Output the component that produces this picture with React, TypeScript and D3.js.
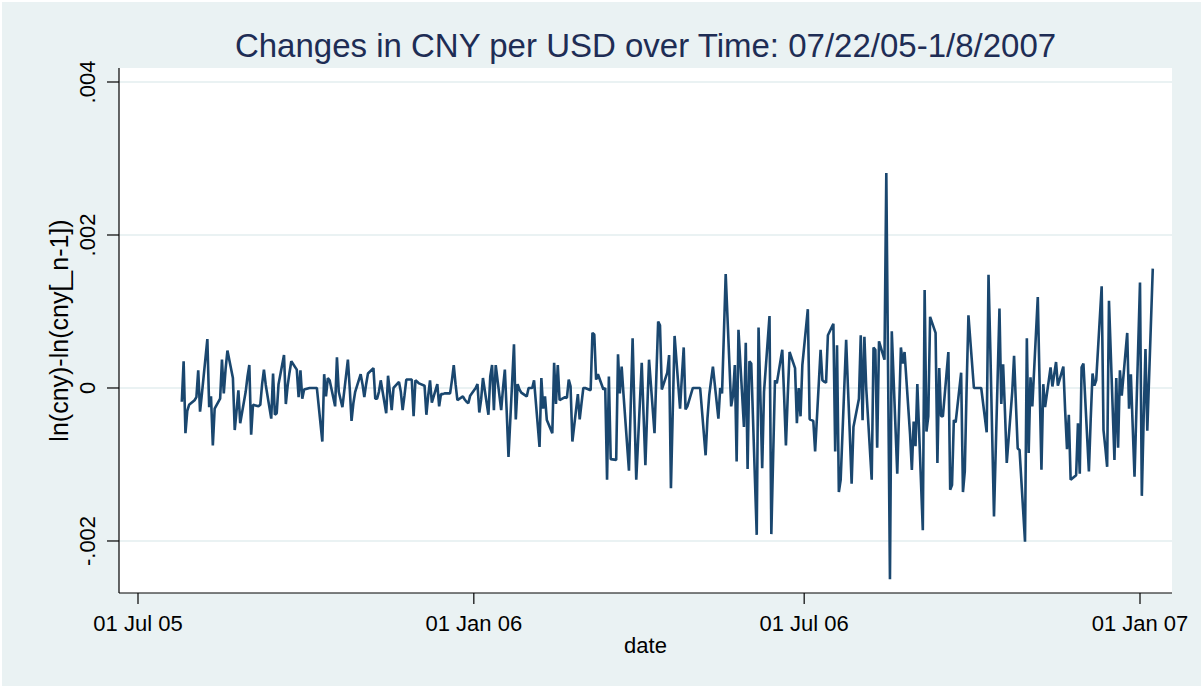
import React from "react";
import * as d3 from "d3";

// ---- data ----
const TITLE = "Changes in CNY per USD over Time: 07/22/05-1/8/2007";
const X_TITLE = "date";
const Y_TITLE = "ln(cny)-ln(cny[_n-1])";
const START_DATE = "2005-07-25";
const END_DATE = "2007-01-08";
const X_TICKS = ["2005-07-01", "2006-01-01", "2006-07-01", "2007-01-01"];
const Y_TICKS = [-0.002, 0, 0.002, 0.004];
const Y_TICK_LABELS = ["-.002", "0", ".002", ".004"];

// daily (weekday) values of ln(cny)-ln(cny[_n-1])
const dlnCny = [
  -1.8e-4, 3.5e-4, -5.9e-4, -3.0e-4, -2.2e-4,
  -1.6e-4, -1.2e-4, 2.3e-4, -3.1e-4, -0.8e-4,
  6.4e-4, -2.5e-4, -1.1e-4, -7.5e-4, -2.7e-4,
  -1.4e-4, 3.7e-4, -0.7e-4, 2.5e-4, 4.9e-4,
  1.3e-4, -5.5e-4, -3.0e-4, -0.3e-4, -4.6e-4,
  -0.5e-4, 1.5e-4, 3.0e-4, -6.1e-4, -2.2e-4,
  -2.4e-4, -2.2e-4, 0.5e-4, 2.4e-4, 0.4e-4,
  -4.0e-4, 1.9e-4, -3.5e-4, -3.3e-4, 0.5e-4,
  4.3e-4, -2.1e-4, 0.3e-4, 2.0e-4, 3.5e-4,
  2.4e-4, -1.2e-4, 2.3e-4, -1.4e-4, -0.2e-4,
  0, 0, 0, 0, 0,
  -7.0e-4, 1.8e-4, -1.1e-4, 1.3e-4, 1.0e-4,
  -2.4e-4, 4.0e-4, -0.5e-4, -1.5e-4, -2.5e-4,
  3.7e-4, 0.0, -4.3e-4, -2.0e-4, -0.5e-4,
  1.8e-4, 0.5e-4, -1.2e-4, 0.5e-4, 1.9e-4,
  2.6e-4, -1.4e-4, -1.4e-4, -0.5e-4, 1.0e-4,
  -3.3e-4, 1.6e-4, -0.5e-4, -2.9e-4, 0.0,
  0.8e-4, -0.5e-4, -2.9e-4, -1.0e-4, 1.1e-4,
  1.1e-4, -3.7e-4, 1.0e-4, 0.8e-4, 0.6e-4,
  0.3e-4, -3.5e-4, -1.0e-4, 1.0e-4, -1.9e-4,
  0.5e-4, -2.4e-4, -0.8e-4, -0.8e-4, -0.7e-4,
  -0.7e-4, 1.0e-4, 3.0e-4, 0.5e-4, -1.6e-4,
  -1.1e-4, -1.5e-4, -1.8e-4, -2.0e-4, -1.0e-4,
  0.0, 0.5e-4, -3.2e-4, -1.5e-4, 1.3e-4,
  -3.5e-4, 1.5e-4, 3.0e-4, -2.9e-4, 3.0e-4,
  -2.9e-4, 0.0, 2.4e-4, -3.0e-4, -9.0e-4,
  5.7e-4, -4.1e-4, 0.5e-4, -0.2e-4, -0.6e-4,
  -1.1e-4, 0, 0, 0, 1.0e-4,
  -7.7e-4, 1.3e-4, -2.7e-4, -1.1e-4, -4.2e-4,
  -5.9e-4, 3.3e-4, -2.1e-4, 3.0e-4, -1.6e-4,
  -1.2e-4, -1.3e-4, 1.1e-4, 0.2e-4, -7.0e-4,
  -0.8e-4, -4.1e-4, -2.0e-4, 0.0, 0.0,
  -0.3e-4, 7.2e-4, 7.0e-4, 1.1e-4, 1.8e-4,
  -0.2e-4, 0.0, -12.0e-4, 1.5e-4, -9.3e-4,
  -9.4e-4, 4.4e-4, -0.7e-4, 2.8e-4, -0.8e-4,
  -10.8e-4, -2.0e-4, 6.5e-4, -3.0e-4, -12.0e-4,
  3.3e-4, -3.5e-4, -10.1e-4, -3.0e-4, 3.7e-4,
  -5.9e-4, 1.5e-4, 8.7e-4, 8.2e-4, -0.2e-4,
  2.0e-4, 4.3e-4, -13.1e-4, -3.0e-4, 6.8e-4,
  -2.7e-4, 1.5e-4, 5.3e-4, -2.8e-4, -2.4e-4,
  0, 0, 0, 0, 0,
  -8.8e-4, -4.0e-4, -0.9e-4, 1.0e-4, 2.8e-4,
  -4.0e-4, 0.0, -0.7e-4, 7.0e-4, 14.9e-4,
  -2.4e-4, -1.0e-4, 3.0e-4, -9.6e-4, 7.6e-4,
  -5.1e-4, 5.9e-4, -10.6e-4, 3.5e-4, 3.2e-4,
  -19.2e-4, 7.9e-4, -1.0e-4, -10.5e-4, -0.5e-4,
  9.4e-4, -19.1e-4, -9.0e-4, 1.0e-4, 0.6e-4,
  5.0e-4, -1.0e-4, -7.5e-4, -1.0e-4, 4.7e-4,
  2.6e-4, -4.6e-4, 0.0, -3.7e-4, 3.0e-4,
  10.3e-4, -4.1e-4, -4.2e-4, -4.3e-4, -8.3e-4,
  5.0e-4, 1.0e-4, 0.8e-4, 0.7e-4, 6.9e-4,
  8.4e-4, -8.3e-4, 5.6e-4, -13.6e-4, -12.0e-4,
  6.3e-4, 0.0, -6.0e-4, -12.5e-4, -5.1e-4,
  -1.4e-4, 6.9e-4, -4.2e-4, 6.7e-4, 0.0,
  -12.0e-4, 5.3e-4, 5.0e-4, -7.8e-4, 6.1e-4,
  3.7e-4, 28.1e-4, 1.5e-4, -25.0e-4, 7.4e-4,
  -11.2e-4, -3.0e-4, 5.3e-4, 3.2e-4, 4.7e-4,
  -6.0e-4, -10.7e-4, -4.4e-4, -7.6e-4, 0.5e-4,
  -18.6e-4, 12.8e-4, -5.7e-4, -3.7e-4, 9.3e-4,
  7.2e-4, -9.8e-4, 2.6e-4, -3.7e-4, -3.7e-4,
  4.7e-4, -13.3e-4, -12.7e-4, -4.2e-4, -4.5e-4,
  2.0e-4, -13.6e-4, -10.9e-4, 0.0, 9.5e-4,
  0, 0, 0, 0, 0,
  -5.8e-4, 14.8e-4, 5.0e-4, -6.0e-4, -16.8e-4,
  10.4e-4, -2.1e-4, 3.1e-4, -3.0e-4, -9.8e-4,
  -0.5e-4, 4.2e-4, -2.0e-4, -7.9e-4, -8.1e-4,
  -20.1e-4, 6.5e-4, -8.5e-4, 1.4e-4, -2.4e-4,
  11.9e-4, 0.5e-4, -10.7e-4, 0.5e-4, -2.5e-4,
  2.7e-4, 0.2e-4, 1.8e-4, 3.4e-4, 0.3e-4,
  2.8e-4, -3.0e-4, -8.0e-4, -3.5e-4, -12.0e-4,
  -11.4e-4, -4.6e-4, -11.2e-4, 2.7e-4, 3.2e-4,
  -10.9e-4, -4.0e-4, 1.9e-4, 0.3e-4, 1.0e-4,
  13.3e-4, -5.5e-4, -7.8e-4, -10.3e-4, 11.4e-4,
  -9.4e-4, 1.3e-4, -7.8e-4, 2.3e-4, -1.0e-4,
  7.2e-4, -2.7e-4, 1.8e-4, -5.0e-4, -11.6e-4,
  13.8e-4, -14.1e-4, -4.0e-4, 5.1e-4, -5.6e-4,
  15.6e-4,
];

// ---- layout ----
const W = 1201;
const H = 686;
const PLOT = { left: 119, right: 1172, top: 68, bottom: 593 };
const FONT = "'Liberation Sans', Arial, Helvetica, sans-serif";
const BG = "#EAF2F3";
const LINE = "#1A476F";

const parse = d3.utcParse("%Y-%m-%d");
const fmt = d3.utcFormat("%d %b %y");

export default function App() {
  const start = parse(START_DATE)!;
  const end = parse(END_DATE)!;
  const dates = d3.utcDay
    .range(start, d3.utcDay.offset(end, 1))
    .filter((d) => d.getUTCDay() !== 0 && d.getUTCDay() !== 6);
  const data = dates
    .map((d, i) => ({ date: d, v: dlnCny[i] }))
    .filter((p) => p.v !== undefined);

  const xTickDates = X_TICKS.map((s) => parse(s)!);
  const x = d3
    .scaleUtc()
    .domain([xTickDates[0], xTickDates[xTickDates.length - 1]])
    .range([138, 1140]);
  const y = d3
    .scaleLinear()
    .domain([-0.00268, 0.004183])
    .range([PLOT.bottom, PLOT.top]);

  const line = d3
    .line<{ date: Date; v: number }>()
    .x((d) => x(d.date))
    .y((d) => y(d.v));

  const cx = (PLOT.left + PLOT.right) / 2;
  const cy = (PLOT.top + PLOT.bottom) / 2;

  return (
    <svg
      width={W}
      height={H}
      style={{ position: "absolute", left: 0, top: 0, display: "block" }}
      fontFamily={FONT}
    >
      <rect x={0} y={0} width={W} height={H} fill="#FFFFFF" />
      <rect x={2} y={2} width={W - 2} height={H - 2} fill={BG} />
      <rect
        x={PLOT.left}
        y={PLOT.top}
        width={PLOT.right - PLOT.left}
        height={PLOT.bottom - PLOT.top}
        fill="#FFFFFF"
      />
      {/* gridlines */}
      {Y_TICKS.map((t) => (
        <line
          key={"g" + t}
          x1={PLOT.left}
          x2={PLOT.right}
          y1={y(t)}
          y2={y(t)}
          stroke={BG}
          strokeWidth={2}
        />
      ))}
      {/* series */}
      <path
        d={line(data) || ""}
        fill="none"
        stroke={LINE}
        strokeWidth={2.6}
        strokeLinejoin="bevel"
      />
      {/* y axis */}
      <line x1={PLOT.left} x2={PLOT.left} y1={PLOT.top} y2={PLOT.bottom} stroke="#000" strokeWidth={1.2} />
      {Y_TICKS.map((t, i) => (
        <g key={"y" + t}>
          <line x1={PLOT.left - 12} x2={PLOT.left} y1={y(t)} y2={y(t)} stroke="#000" strokeWidth={1.2} />
          <text
            transform={`translate(95,${y(t)}) rotate(-90)`}
            textAnchor="middle"
            fontSize={22}
            fill="#000"
          >
            {Y_TICK_LABELS[i]}
          </text>
        </g>
      ))}
      <text
        transform={`translate(68,${cy}) rotate(-90)`}
        textAnchor="middle"
        fontSize={25}
        fill="#000"
      >
        {Y_TITLE}
      </text>
      {/* x axis */}
      <line x1={PLOT.left} x2={PLOT.right} y1={PLOT.bottom} y2={PLOT.bottom} stroke="#000" strokeWidth={1.2} />
      {xTickDates.map((d) => (
        <g key={"x" + d.getTime()}>
          <line x1={x(d)} x2={x(d)} y1={PLOT.bottom} y2={PLOT.bottom + 11} stroke="#000" strokeWidth={1.2} />
          <text x={x(d)} y={631} textAnchor="middle" fontSize={22} fill="#000">
            {fmt(d)}
          </text>
        </g>
      ))}
      <text x={cx} y={653} textAnchor="middle" fontSize={22} fill="#000">
        {X_TITLE}
      </text>
      {/* title */}
      <text x={cx} y={57} textAnchor="middle" fontSize={33} fill="#1E2D55">
        {TITLE}
      </text>
    </svg>
  );
}
